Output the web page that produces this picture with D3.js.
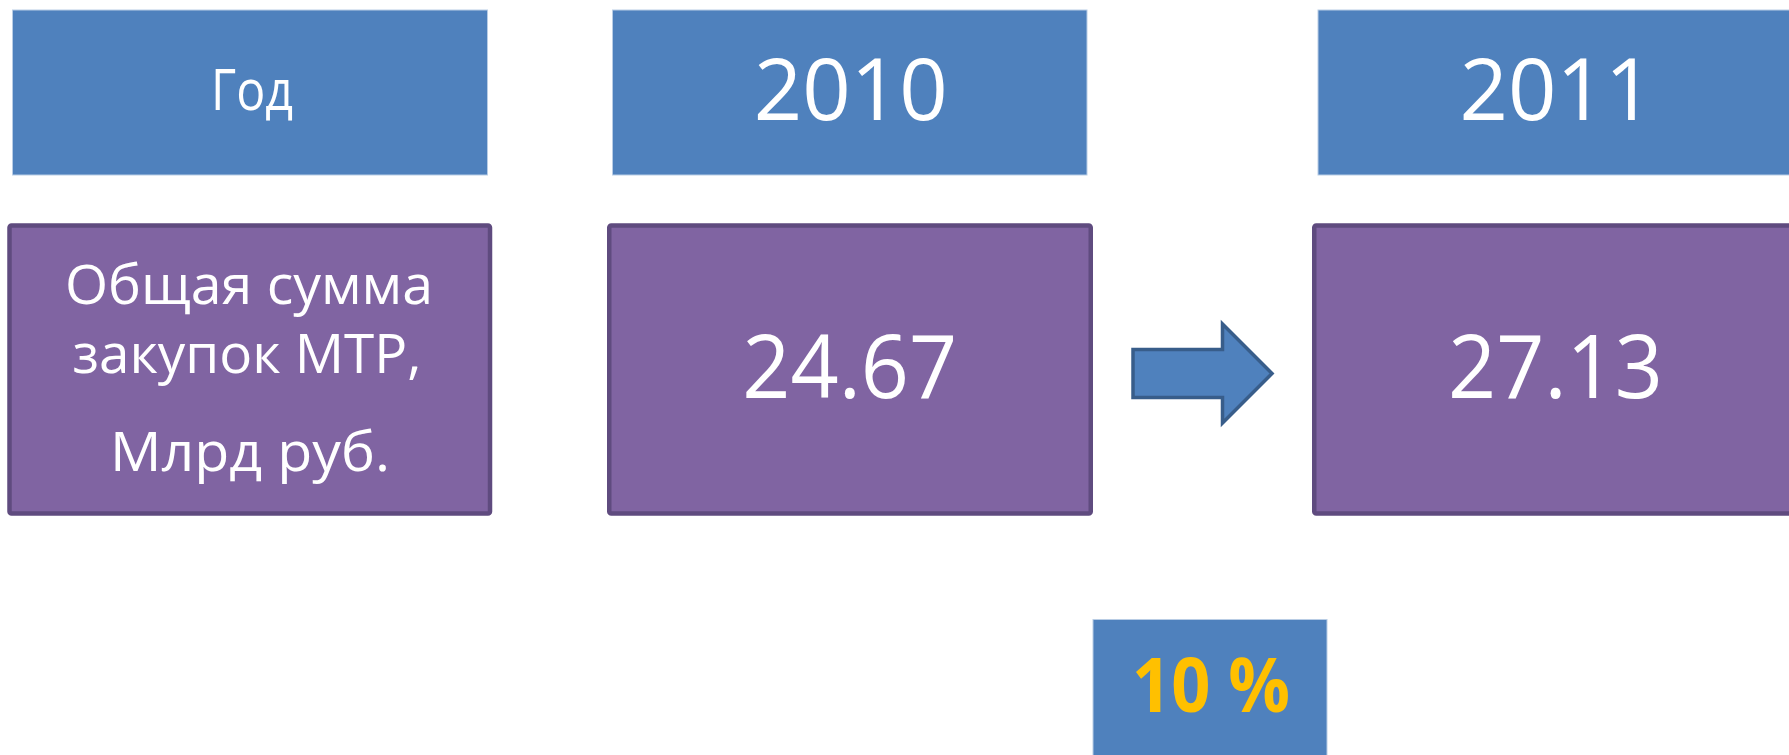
<!DOCTYPE html>
<html>
<head>
<meta charset="utf-8">
<script src="https://cdn.jsdelivr.net/npm/d3@7"></script>
<style>
  html, body { margin: 0; padding: 0; background: #ffffff; overflow: hidden; }
  svg { display: block; }
</style>
</head>
<body>
<svg id="chart" width="1789" height="755"></svg>
<script>
// ---- data ----
const headerLabel = "Год";
const years = ["2010", "2011"];
const rowLabelLines = ["Общая сумма", "закупок МТР,", "Млрд руб."];
const values = [24.67, 27.13];
const growthLabel = "10 %";

// ---- layout ----
const svg = d3.select("#chart");
const FONT = "'Open Sans', 'Noto Sans', sans-serif";
const BLUE = "#4f81bd", BLUE_EDGE = "#b9cde5";
const PURPLE = "#8064a2", PURPLE_EDGE = "#5f4b7f";
const ARROW_EDGE = "#385d8a";
const GOLD = "#ffc000";

// columns: label column + one per year
const cols = [
  { bx: 12.5, bw: 475, px: 9.5, pw: 480.5 },
  { bx: 612.5, bw: 474.5, px: 609.25, pw: 481.5 },
  { bx: 1318, bw: 475, px: 1314.25, pw: 482 }
];
const headerY = 10, headerH = 165;
const rowY = 225.5, rowH = 288;

// header row
const headers = [headerLabel].concat(years);
const hg = svg.append("g");
hg.selectAll("rect").data(headers).join("rect")
  .attr("x", (d, i) => cols[i].bx).attr("y", headerY)
  .attr("width", (d, i) => cols[i].bw).attr("height", headerH)
  .attr("fill", BLUE).attr("stroke", BLUE_EDGE).attr("stroke-width", 1);
hg.selectAll("text").data(headers).join("text")
  .attr("x", (d, i) => cols[i].bx + cols[i].bw / 2 + (i === 0 ? 2 : 1))
  .attr("y", (d, i) => i === 0 ? 110 : 119.5)
  .attr("text-anchor", "middle")
  .attr("font-family", FONT)
  .attr("font-size", (d, i) => i === 0 ? 56 : 86)
  .attr("textLength", (d, i) => i === 0 ? 82 : 194)
  .attr("lengthAdjust", "spacingAndGlyphs")
  .attr("fill", "#ffffff")
  .text(d => d);

// value row
const rows = [null].concat(values);
const rg = svg.append("g");
rg.selectAll("rect").data(rows).join("rect")
  .attr("x", (d, i) => cols[i].px).attr("y", rowY)
  .attr("width", (d, i) => cols[i].pw).attr("height", rowH)
  .attr("rx", 2)
  .attr("fill", PURPLE).attr("stroke", PURPLE_EDGE).attr("stroke-width", 4.5);

// row label (multi-line)
const labelBaselines = [304, 372.5, 470.5];
const labelWidths = [368, 349, 280];
const labelCenters = [249, 247, 250];
rg.append("g").selectAll("text").data(rowLabelLines).join("text")
  .attr("x", (d, i) => labelCenters[i])
  .attr("y", (d, i) => labelBaselines[i])
  .attr("text-anchor", "middle")
  .attr("font-family", FONT)
  .attr("font-size", 55)
  .attr("textLength", (d, i) => labelWidths[i])
  .attr("lengthAdjust", "spacingAndGlyphs")
  .attr("fill", "#ffffff")
  .text(d => d);

// values
const fmt = d3.format(".2f");
rg.append("g").selectAll("text").data(values).join("text")
  .attr("x", (d, i) => cols[i + 1].bx + cols[i + 1].bw / 2)
  .attr("y", 397.5)
  .attr("text-anchor", "middle")
  .attr("font-family", FONT)
  .attr("font-size", 87)
  .attr("textLength", 215)
  .attr("lengthAdjust", "spacingAndGlyphs")
  .attr("fill", "#ffffff")
  .text(d => fmt(d));

// arrow between the two values
const ax0 = 1133, ax1 = 1222.5, ax2 = 1272;
const ay = 373.5, shaftHalf = 24, headHalf = 49.5;
const p = d3.path();
p.moveTo(ax0, ay - shaftHalf);
p.lineTo(ax1, ay - shaftHalf);
p.lineTo(ax1, ay - headHalf);
p.lineTo(ax2, ay);
p.lineTo(ax1, ay + headHalf);
p.lineTo(ax1, ay + shaftHalf);
p.lineTo(ax0, ay + shaftHalf);
p.closePath();
svg.append("path").attr("d", p.toString())
  .attr("fill", BLUE).attr("stroke", ARROW_EDGE).attr("stroke-width", 3.5)
  .attr("stroke-linejoin", "miter");

// growth box
const gx = 1093, gw = 234, gy = 619.5;
svg.append("rect").attr("x", gx).attr("y", gy).attr("width", gw).attr("height", 160)
  .attr("fill", BLUE).attr("stroke", BLUE_EDGE).attr("stroke-width", 1);
svg.append("text")
  .attr("x", gx + gw / 2 + 1).attr("y", 712)
  .attr("text-anchor", "middle")
  .attr("font-family", FONT)
  .attr("font-weight", "bold")
  .attr("font-size", 75)
  .attr("textLength", 158)
  .attr("lengthAdjust", "spacingAndGlyphs")
  .attr("fill", GOLD)
  .text(growthLabel);
</script>
</body>
</html>
